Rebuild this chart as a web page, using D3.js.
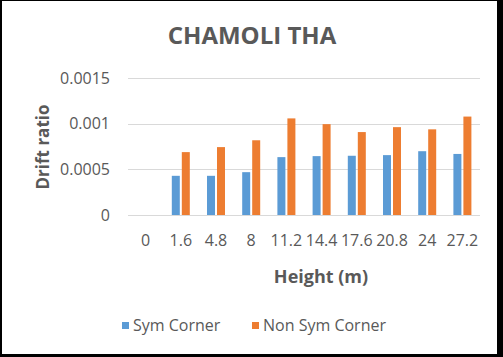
<!DOCTYPE html>
<html><head><meta charset="utf-8">
<script src="https://cdn.jsdelivr.net/npm/d3@7"></script>
<style>body{margin:0;background:#fff}svg{display:block}</style>
</head><body>
<script>
const categories = ["0","1.6","4.8","8","11.2","14.4","17.6","20.8","24","27.2"];
const symCorner = [null,0.00043,0.00043,0.00047,0.000635,0.000646,0.00065,0.000657,0.0007,0.00067];
const nonSymCorner = [null,0.00069,0.000745,0.00082,0.00106,0.000997,0.00091,0.000964,0.00094,0.00108];
const yTicks = [0,0.0005,0.001,0.0015];
const yTickLabels = ["0","0.0005","0.001","0.0015"];
const seriesNames = ["Sym Corner","Non Sym Corner"];
const colors = ["#5B9BD5","#ED7D31"];

const W=503,H=357;
const font = "'Open Sans', 'Noto Sans', sans-serif";
const svg = d3.select("body").append("svg").attr("width",W).attr("height",H);
svg.append("rect").attr("width",W).attr("height",H).attr("fill","#000");
svg.append("rect").attr("x",2).attr("y",1).attr("width",W-2-6).attr("height",H-1-3).attr("fill","#fff");

const x = d3.scaleBand().domain(categories).range([128,480]);
const y = d3.scaleLinear().domain([0,0.0015]).range([215,78.3]);

// gridlines
svg.append("g").selectAll("line").data(yTicks).join("line")
  .attr("x1",128).attr("x2",480).attr("y1",d=>Math.round(y(d))+0.5).attr("y2",d=>Math.round(y(d))+0.5)
  .attr("stroke","#D9D9D9").attr("stroke-width",1);

// y axis labels
const yAxis = d3.axisLeft(y).tickValues(yTicks).tickFormat((d,i)=>yTickLabels[i]).tickSize(0).tickPadding(18);
const ya = svg.append("g").attr("transform","translate(128,0)").call(yAxis);
ya.select(".domain").remove();
ya.selectAll("text").attr("fill","#595959").style("font-family",font).style("font-size","16px");

// x axis labels
const xAxis = d3.axisBottom(x).tickSize(0).tickPadding(20);
const xa = svg.append("g").attr("transform","translate(0,215)").call(xAxis);
xa.select(".domain").remove();
xa.selectAll("text").attr("fill","#595959").style("font-family",font).style("font-size","16px");

// bars
const bw = 8, gap = 2;
const series = [symCorner, nonSymCorner];
series.forEach((vals,si)=>{
  svg.append("g").selectAll("rect").data(categories.map((c,i)=>({c,v:vals[i]})).filter(d=>d.v!=null))
    .join("rect")
    .attr("x",d=>x(d.c)+x.bandwidth()/2 + (si===0 ? -(bw+gap/2) : gap/2))
    .attr("width",bw)
    .attr("y",d=>y(d.v))
    .attr("height",d=>y(0)-y(d.v))
    .attr("fill",colors[si]);
});

// title
svg.append("text").attr("x",252).attr("y",44).attr("text-anchor","middle")
  .attr("fill","#595959").style("font-family",font).style("font-size","24px").style("font-weight","bold")
  .text("CHAMOLI THA");

// axis titles
svg.append("text").attr("transform","translate(49,147) rotate(-90)").attr("text-anchor","middle")
  .attr("fill","#595959").style("font-family",font).style("font-size","17px").style("font-weight","bold")
  .text("Drift ratio");
svg.append("text").attr("x",321).attr("y",283).attr("text-anchor","middle")
  .attr("fill","#595959").style("font-family",font).style("font-size","18px").style("font-weight","bold")
  .text("Height (m)");

// legend
const lx=[122,252];
seriesNames.forEach((n,i)=>{
  svg.append("rect").attr("x",lx[i]).attr("y",322).attr("width",7).attr("height",7).attr("fill",colors[i]);
  svg.append("text").attr("x",lx[i]+11).attr("y",331).attr("fill","#595959")
    .style("font-family",font).style("font-size","16px").text(n);
});
</script>
</body></html>
